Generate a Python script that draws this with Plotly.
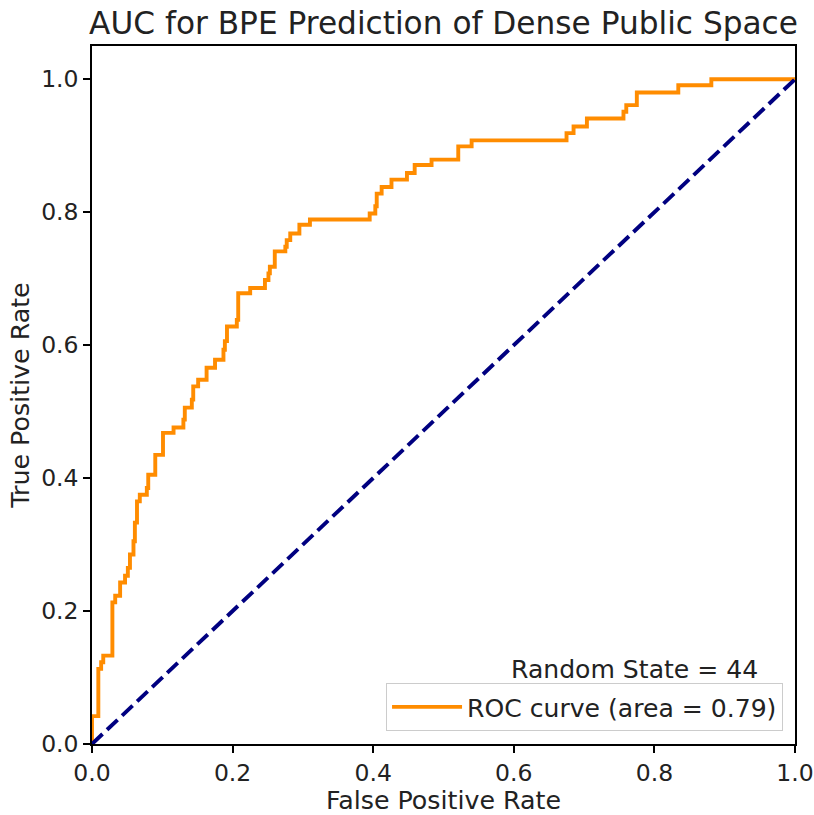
import plotly.graph_objects as go

fpr = [0, 0, 0.009, 0.013, 0.016, 0.029, 0.033, 0.040, 0.047, 0.051,
       0.054, 0.059, 0.061, 0.064, 0.068, 0.078, 0.080, 0.090, 0.101, 0.116,
       0.130, 0.132, 0.142, 0.144, 0.151, 0.163, 0.175, 0.187, 0.189, 0.192,
       0.206, 0.208, 0.225, 0.246, 0.251, 0.253, 0.260, 0.275, 0.277, 0.282,
       0.295, 0.310, 0.395, 0.403, 0.405, 0.412, 0.426, 0.448, 0.459, 0.483,
       0.521, 0.540, 0.675, 0.685, 0.704, 0.756, 0.760, 0.775, 0.834, 0.881,
       1.0]
tpr = [0, 0.042, 0.113, 0.123, 0.133, 0.213, 0.223, 0.243, 0.253, 0.265,
       0.285, 0.305, 0.333, 0.365, 0.375, 0.385, 0.405, 0.435, 0.468, 0.476,
       0.488, 0.506, 0.518, 0.538, 0.548, 0.566, 0.578, 0.593, 0.606, 0.628,
       0.638, 0.678, 0.686, 0.698, 0.708, 0.718, 0.741, 0.748, 0.758, 0.768,
       0.781, 0.789, 0.798, 0.809, 0.828, 0.838, 0.849, 0.859, 0.871, 0.879,
       0.899, 0.908, 0.919, 0.929, 0.941, 0.951, 0.961, 0.980, 0.991, 1.0,
       1.0]
diag_x = [0, 1]
diag_y = [0, 1]
tick_vals = [0.0, 0.2, 0.4, 0.6, 0.8, 1.0]
tick_text = ["0.0", "0.2", "0.4", "0.6", "0.8", "1.0"]
roc_auc = 0.79
random_state = 44

FONT = "DejaVu Sans"
TXT = "#222222"

fig = go.Figure()
fig.add_trace(go.Scatter(
    x=fpr, y=tpr, mode="lines", line_shape="hv",
    line=dict(color="#FF8C00", width=3.9),
    name=f"ROC curve (area = {roc_auc:.2f})", showlegend=True))
fig.add_trace(go.Scatter(
    x=diag_x, y=diag_y, mode="lines",
    line=dict(color="#000080", width=3.9, dash="14.5px,6.2px"),
    showlegend=False, hoverinfo="skip"))

axis_common = dict(
    showgrid=False, zeroline=False, showline=True, mirror=True,
    linecolor="black", linewidth=1.5, ticks="outside", ticklen=7,
    tickwidth=1.5, tickcolor="black", automargin=False,
    tickfont=dict(family=FONT, size=23.5, color=TXT),
    tickvals=tick_vals, ticktext=tick_text,
)

fig.update_layout(
    width=814, height=815,
    margin=dict(l=92, r=19, t=46, b=71),
    paper_bgcolor="white", plot_bgcolor="white",
    font=dict(family=FONT, color=TXT),
    title=dict(text="AUC for BPE Prediction of Dense Public Space",
               font=dict(family=FONT, size=31.2, color=TXT),
               x=(92 + 795) / 2 / 814, xanchor="center",
               y=1 - 23 / 815, yanchor="middle", yref="container"),
    xaxis=dict(range=[0, 1.0], title=dict(text="False Positive Rate",
               font=dict(family=FONT, size=25.3), standoff=3), **axis_common),
    yaxis=dict(range=[0, 1.05], title=dict(text="True Positive Rate",
               font=dict(family=FONT, size=25.3), standoff=4), **axis_common),
    legend=dict(x=0.983, y=0.0186, xanchor="right", yanchor="bottom",
                bgcolor="rgba(255,255,255,0.8)", bordercolor="#cccccc",
                borderwidth=1, itemwidth=70,
                font=dict(family=FONT, size=25.1, color=TXT)),
    annotations=[dict(text=f"Random State = {random_state}", xref="paper", yref="paper",
                      x=0.950, y=0.107, xanchor="right", yanchor="middle",
                      showarrow=False, font=dict(family=FONT, size=25.1, color=TXT))],
)

fig.write_html("out.html")
